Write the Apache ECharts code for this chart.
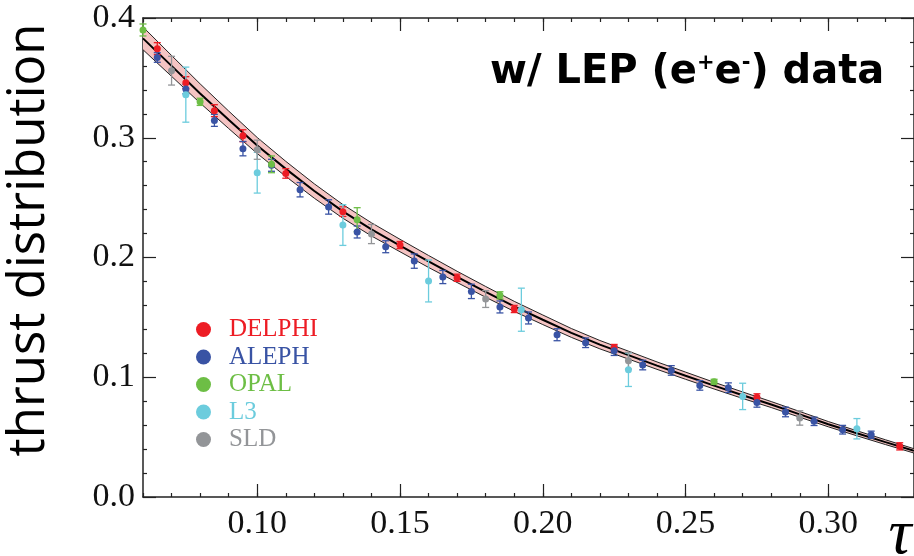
<!DOCTYPE html>
<html><head><meta charset="utf-8">
<script src="https://cdn.jsdelivr.net/npm/echarts@6/dist/echarts.min.js"></script>
<style>html,body{margin:0;padding:0;background:#fff}#c{width:914px;height:556px}</style>
</head><body><div id="c"></div>
<script>
// ---- data ----
const delphiTau = [0.065,0.075,0.085,0.095,0.11,0.13,0.15,0.17,0.19,0.225,0.275,0.325];
const delphiVal = [0.3744,0.346,0.3226,0.3017,0.2702,0.2383,0.2104,0.1831,0.157,0.1244,0.0832,0.0423];
const delphiErr = [0.005,0.005,0.005,0.005,0.004,0.004,0.003,0.003,0.003,0.003,0.003,0.003];

const alephTau = [0.065,0.075,0.085,0.095,0.105,0.115,0.125,0.135,0.145,0.155,0.165,0.175,0.185,0.195,0.205,0.215,0.225,0.235,0.245,0.255,0.265,0.275,0.285,0.295,0.305,0.315];
const alephVal = [0.367,0.3407,0.3145,0.2909,0.277,0.2566,0.2422,0.2213,0.209,0.197,0.1837,0.1717,0.1587,0.1495,0.1355,0.1288,0.1222,0.1102,0.1057,0.0932,0.0913,0.079,0.071,0.0632,0.0562,0.052];
const alephErr = [0.004,0.004,0.005,0.006,0.005,0.006,0.006,0.005,0.005,0.006,0.0055,0.006,0.005,0.005,0.005,0.004,0.004,0.004,0.004,0.004,0.004,0.004,0.004,0.0035,0.0036,0.003];

const opalTau = [0.06,0.08,0.105,0.135,0.185,0.26];
const opalVal = [0.390,0.330,0.2778,0.2316,0.1684,0.0963];
const opalErr = [0.005,0.003,0.007,0.010,0.003,0.002];

const l3Tau = [0.075,0.10,0.13,0.16,0.1925,0.23,0.27,0.31];
const l3Val = [0.336,0.2708,0.2271,0.1804,0.1564,0.1063,0.084,0.057];
const l3Err = [0.023,0.017,0.017,0.0175,0.018,0.014,0.011,0.0085];

const sldTau = [0.07,0.10,0.14,0.18,0.23,0.29];
const sldVal = [0.356,0.290,0.2196,0.1653,0.1138,0.066];
const sldErr = [0.012,0.008,0.008,0.007,0.007,0.006];

const theoryTau = [0.06,0.07,0.08,0.09,0.10,0.11,0.12,0.13,0.14,0.15,0.16,0.17,0.18,0.19,0.20,0.21,0.22,0.23,0.24,0.25,0.26,0.27,0.28,0.29,0.30,0.31,0.32,0.33];
const theoryCentral = [0.383,0.360,0.337,0.315,0.2935,0.274,0.2555,0.2385,0.2235,0.210,0.1967,0.1838,0.1713,0.1592,0.148,0.137,0.1272,0.1185,0.1097,0.1013,0.093,0.085,0.0772,0.069,0.0608,0.0532,0.0458,0.0385];
const theoryHalf = [0.0095,0.0087,0.008,0.0073,0.0067,0.0063,0.006,0.0057,0.0055,0.0052,0.005,0.0047,0.0045,0.0042,0.004,0.0037,0.0035,0.0033,0.0031,0.003,0.0028,0.0027,0.0025,0.0024,0.0022,0.0021,0.002,0.0018];

const xMajorTicks = [0.10,0.15,0.20,0.25,0.30];
const experiments = ['DELPHI','ALEPH','OPAL','L3','SLD'];
const colors = {DELPHI:'#ED1C24', ALEPH:'#3953A4', OPAL:'#6DBE45', L3:'#6CCCDD', SLD:'#939598'};
const sets = {
  DELPHI:[delphiTau,delphiVal,delphiErr],
  ALEPH:[alephTau,alephVal,alephErr],
  OPAL:[opalTau,opalVal,opalErr],
  L3:[l3Tau,l3Val,l3Err],
  SLD:[sldTau,sldVal,sldErr]
};

const chart = echarts.init(document.getElementById('c'), null, {renderer:'canvas'});
const serifFont = 'Liberation Serif';

function errRender(color){
  return function(params, api){
    const x = api.value(0), lo = api.value(1), hi = api.value(2);
    const p1 = api.coord([x, hi]), p2 = api.coord([x, lo]);
    const cap = 3.5;
    const style = {stroke: color, lineWidth: 1.3};
    return {type:'group', children:[
      {type:'line', shape:{x1:p1[0],y1:p1[1],x2:p2[0],y2:p2[1]}, style},
      {type:'line', shape:{x1:p1[0]-cap,y1:p1[1],x2:p1[0]+cap,y2:p1[1]}, style},
      {type:'line', shape:{x1:p2[0]-cap,y1:p2[1],x2:p2[0]+cap,y2:p2[1]}, style}
    ]};
  };
}

function bandRender(params, api){
  if (params.dataIndex !== 0) return null;
  const up = [], dn = [];
  for (let i = 0; i < theoryTau.length; i++) {
    up.push(api.coord([theoryTau[i], theoryCentral[i] + theoryHalf[i]]));
    dn.push(api.coord([theoryTau[i], theoryCentral[i] - theoryHalf[i]]));
  }
  return {type:'polygon', shape:{points: up.concat(dn.reverse())}, style:{fill:'#F5C4C3', stroke:null}};
}

const series = [];
series.push({type:'custom', name:'band', renderItem: bandRender, silent:true, z:1, clip:true,
  encode:{x:0, y:[1,2]},
  data: theoryTau.map((t,i)=>[t, theoryCentral[i]-theoryHalf[i], theoryCentral[i]+theoryHalf[i]])});
series.push({type:'line', name:'lo', symbol:'none', silent:true,
  data: theoryTau.map((t,i)=>[t, theoryCentral[i]-theoryHalf[i]]),
  lineStyle:{color:'#222', width:1}, z:2});
series.push({type:'line', name:'hi', symbol:'none', silent:true,
  data: theoryTau.map((t,i)=>[t, theoryCentral[i]+theoryHalf[i]]),
  lineStyle:{color:'#222', width:1}, z:2});
series.push({type:'line', name:'central', symbol:'none', silent:true,
  data: theoryTau.map((t,i)=>[t, theoryCentral[i]]),
  lineStyle:{color:'#000', width:2}, z:2});

experiments.forEach(name=>{
  const [t,v,e] = sets[name];
  series.push({type:'custom', name: name+'_err', renderItem: errRender(colors[name]),
    encode:{x:0, y:[1,2]}, silent:true, z:3,
    data: t.map((tt,i)=>[tt, v[i]-e[i], v[i]+e[i]])});
  series.push({type:'scatter', name: name, symbol:'circle', symbolSize:7, z:4,
    itemStyle:{color: colors[name], opacity:1},
    data: t.map((tt,i)=>[tt, v[i]])});
});

const baseX = {type:'value', min:0.06, max:0.33, splitLine:{show:false}, gridIndex:0};
const axisLineStyle = {show:true, lineStyle:{color:'#222', width:1.5}};

chart.setOption({
  animation:false,
  backgroundColor:'#fff',
  grid:{left:143, top:18, width:777, height:479, containLabel:false},
  xAxis:[
    Object.assign({}, baseX, {position:'bottom', interval:0.01, axisLine:axisLineStyle,
      axisTick:{inside:true, length:4, lineStyle:{color:'#222', width:1.2}}, axisLabel:{show:false}}),
    Object.assign({}, baseX, {position:'bottom', axisLine:{show:false},
      axisTick:{inside:true, length:13, customValues:xMajorTicks, lineStyle:{color:'#222', width:1.2}},
      axisLabel:{show:true, customValues:xMajorTicks, margin:10, fontFamily:serifFont, fontSize:34, color:'#111',
        formatter:v=>v.toFixed(2)}}),
    Object.assign({}, baseX, {position:'top', interval:0.01, axisLine:axisLineStyle,
      axisTick:{inside:true, length:4, lineStyle:{color:'#222', width:1.2}}, axisLabel:{show:false}}),
    Object.assign({}, baseX, {position:'top', axisLine:{show:false},
      axisTick:{inside:true, length:13, customValues:xMajorTicks, lineStyle:{color:'#222', width:1.2}}, axisLabel:{show:false}})
  ],
  yAxis:[
    {type:'value', min:0, max:0.4, interval:0.1, position:'left', splitLine:{show:false}, axisLine:axisLineStyle,
      axisTick:{inside:true, length:13, lineStyle:{color:'#222', width:1.2}},
      minorTick:{show:true, splitNumber:5, length:4, lineStyle:{color:'#222', width:1.2}},
      axisLabel:{margin:8, fontFamily:serifFont, fontSize:34, color:'#111', formatter:v=>v.toFixed(1)}},
    {type:'value', min:0, max:0.4, interval:0.1, position:'right', splitLine:{show:false}, axisLine:axisLineStyle,
      axisTick:{inside:true, length:13, lineStyle:{color:'#222', width:1.2}},
      minorTick:{show:true, splitNumber:5, length:4, lineStyle:{color:'#222', width:1.2}},
      axisLabel:{show:false}}
  ],
  legend:{
    orient:'vertical', left:191, top:312, itemWidth:15, itemHeight:15, itemGap:2.5,
    selectedMode:false, icon:'circle',
    textStyle:{fontFamily:serifFont, fontSize:25, padding:[0,0,0,13]},
    data: experiments.map(n=>({name:n, icon:'circle', itemStyle:{color:colors[n], opacity:1}, textStyle:{color:colors[n]}}))
  },
  graphic:[
    {type:'text', x:29, y:240, rotation:Math.PI/2,
      style:{text:'thrust distribution', fontFamily:'Open Sans', fontSize:51, fill:'#000', textAlign:'center', textVerticalAlign:'middle'}},
    {type:'text', left:490, top:53,
      style:{text:'{a|w/ LEP (e}{s|+}{a|e}{s|-}{a|) data}', fill:'#000',
        rich:{a:{fontFamily:'DejaVu Sans', fontWeight:'bold', fontSize:40, lineHeight:48},
              s:{fontFamily:'DejaVu Sans', fontWeight:'bold', fontSize:21, lineHeight:48, padding:[0,0,18,0]}}}},
    {type:'text', x:900, y:536,
      style:{text:'τ', fontFamily:serifFont, fontStyle:'italic', fontSize:64, fill:'#000', textAlign:'center', textVerticalAlign:'middle'}}
  ],
  series: series
});
</script></body></html>
